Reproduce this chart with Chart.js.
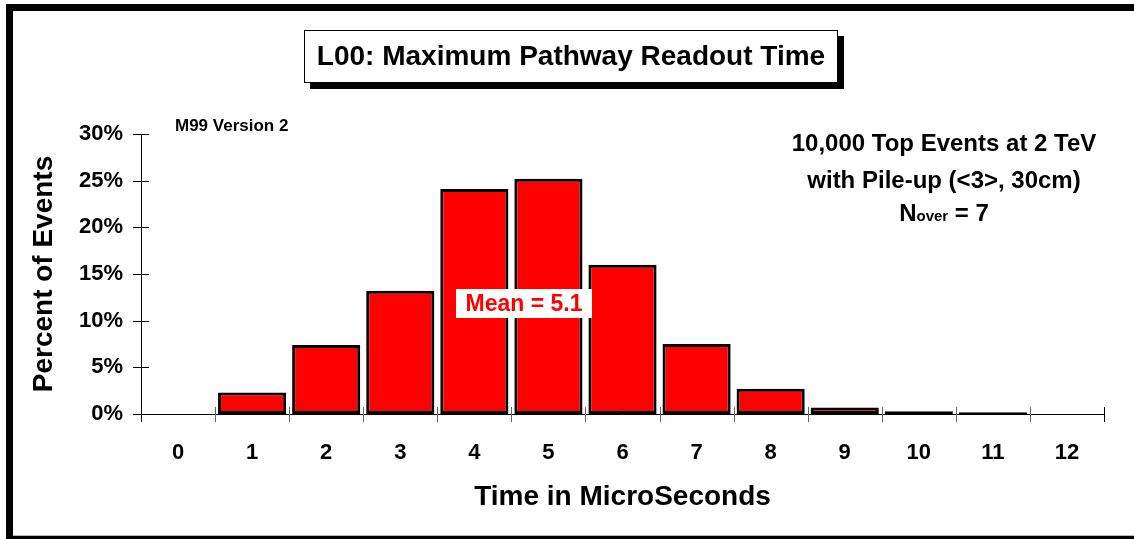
<!DOCTYPE html>
<html>
<head>
<meta charset="utf-8">
<script src="https://cdn.jsdelivr.net/npm/chart.js@4.4.1/dist/chart.umd.min.js"></script>
<style>
  html, body { margin: 0; padding: 0; background: #fff; }
  #wrap { width: 1134px; height: 539px; position: relative; }
</style>
</head>
<body>
<div id="wrap"><canvas id="chart" width="1134" height="539"></canvas></div>
<script>
// data
const micros   = ['0', '1', '2', '3', '4', '5', '6', '7', '8', '9', '10', '11', '12'];
const percents = [0, 2.3, 7.4, 13.2, 24.1, 25.2, 16.0, 7.5, 2.7, 0.7, 0.3, 0.2, 0];
const yTicks   = [0, 5, 10, 15, 20, 25, 30];
const chartTitle = 'L00: Maximum Pathway Readout Time';
const noteLines  = ['10,000 Top Events at 2 TeV', 'with Pile-up (<3>, 30cm)'];
const meanLabel  = 'Mean = 5.1';

const FONT = "'Liberation Sans', Arial, sans-serif";
Chart.defaults.font.family = FONT;
Chart.defaults.font.weight = 'bold';
Chart.defaults.color = '#000';

// frame, title box, ticks and notes
const decor = {
    id: 'decor',
    beforeDraw(chart) {
        const ctx = chart.ctx;
        ctx.save();
        ctx.fillStyle = '#fff';
        ctx.fillRect(0, 0, chart.width, chart.height);
        ctx.fillStyle = '#000';
        ctx.fillRect(6, 4, 1128, 7);
        ctx.fillRect(6, 4, 7, 535);
        ctx.fillRect(6, 536, 1128, 3);
        ctx.fillStyle = '#bbb';
        ctx.fillRect(13, 535, 1121, 1);
        ctx.restore();
    },
    afterDatasetsDraw(chart) {
        const ctx = chart.ctx;
        const area = chart.chartArea;
        const x = chart.scales.x, y = chart.scales.y;
        ctx.save();

        // axis lines
        ctx.strokeStyle = '#000';
        ctx.lineWidth = 1;
        ctx.beginPath();
        ctx.moveTo(area.left + 0.5, area.top);
        ctx.lineTo(area.left + 0.5, area.bottom + 8);
        ctx.moveTo(area.left, area.bottom + 0.5);
        ctx.lineTo(area.right, area.bottom + 0.5);
        ctx.stroke();

        // y ticks cross the axis
        yTicks.forEach(v => {
            const py = Math.round(y.getPixelForValue(v)) + 0.5;
            ctx.beginPath();
            ctx.moveTo(area.left - 8, py);
            ctx.lineTo(area.left + 8, py);
            ctx.stroke();
        });

        // x ticks between categories
        for (let i = 0; i < micros.length; i++) {
            const px = i < micros.length - 1
                ? (x.getPixelForValue(i) + x.getPixelForValue(i + 1)) / 2
                : area.right;
            ctx.strokeStyle = i < micros.length - 1 ? '#666' : '#000';
            ctx.beginPath();
            ctx.moveTo(Math.round(px) + 0.5, area.bottom - 7);
            ctx.lineTo(Math.round(px) + 0.5, area.bottom + 8);
            ctx.stroke();
        }

        // mean label
        ctx.fillStyle = '#fff';
        ctx.fillRect(456, 289, 136, 29);
        ctx.fillStyle = '#ff0000';
        ctx.font = 'bold 23px ' + FONT;
        ctx.textAlign = 'center';
        ctx.textBaseline = 'middle';
        ctx.fillText(meanLabel, 524, 305);

        // title box with shadow
        ctx.fillStyle = '#000';
        ctx.fillRect(310, 36, 534, 53);
        ctx.fillStyle = '#fff';
        ctx.fillRect(304, 30, 534, 53);
        ctx.strokeStyle = '#000';
        ctx.strokeRect(304.5, 30.5, 533, 52);
        ctx.fillStyle = '#000';
        ctx.font = 'bold 28px ' + FONT;
        ctx.fillText(chartTitle, 571, 57);

        // top left tag
        ctx.font = 'bold 17px ' + FONT;
        ctx.textAlign = 'left';
        ctx.textBaseline = 'alphabetic';
        ctx.fillText('M99 Version 2', 175, 131);

        // notes on the right
        ctx.font = 'bold 24px ' + FONT;
        ctx.textAlign = 'center';
        ctx.textBaseline = 'middle';
        ctx.fillText(noteLines[0], 944, 144);
        ctx.fillText(noteLines[1], 944, 181);

        // Nover = 7
        ctx.textAlign = 'left';
        ctx.textBaseline = 'alphabetic';
        const big = 'bold 24px ' + FONT, small = 'bold 15px ' + FONT;
        ctx.font = big;   const wN = ctx.measureText('N').width, wEq = ctx.measureText(' = 7').width;
        ctx.font = small; const wO = ctx.measureText('over').width;
        let sx = 944 - (wN + wO + wEq) / 2;
        ctx.font = big;   ctx.fillText('N', sx, 221); sx += wN;
        ctx.font = small; ctx.fillText('over', sx, 221); sx += wO;
        ctx.font = big;   ctx.fillText(' = 7', sx, 221);

        ctx.restore();
    }
};

new Chart(document.getElementById('chart'), {
    type: 'bar',
    data: {
        labels: micros,
        datasets: [{
            data: percents,
            backgroundColor: '#ff0000',
            borderColor: '#000',
            borderWidth: 3,
            borderSkipped: false,
            barPercentage: 0.92,
            categoryPercentage: 1.0
        }]
    },
    options: {
        responsive: false,
        animation: false,
        layout: { padding: { top: 134, right: 30, left: 0, bottom: 0 } },
        plugins: {
            legend: { display: false },
            tooltip: { enabled: false }
        },
        scales: {
            x: {
                offset: true,
                grid: { display: false, drawTicks: false },
                border: { display: false },
                ticks: { font: { size: 22, weight: 'bold' }, padding: 26, maxRotation: 0 },
                title: { display: true, text: 'Time in MicroSeconds', font: { size: 28, weight: 'bold' }, padding: { bottom: 25 } },
                afterFit: s => { s.height = 125; }
            },
            y: {
                min: 0,
                max: 30,
                grid: { display: false, drawTicks: false },
                border: { display: false },
                afterBuildTicks: s => { s.ticks = yTicks.map(v => ({ value: v })); },
                ticks: { font: { size: 22, weight: 'bold' }, padding: 18, callback: v => v + '%' },
                title: { display: true, text: 'Percent of Events', font: { size: 28, weight: 'bold' }, padding: { top: 27 } },
                afterFit: s => { s.width = 141; }
            }
        }
    },
    plugins: [decor]
});
</script>
</body>
</html>
